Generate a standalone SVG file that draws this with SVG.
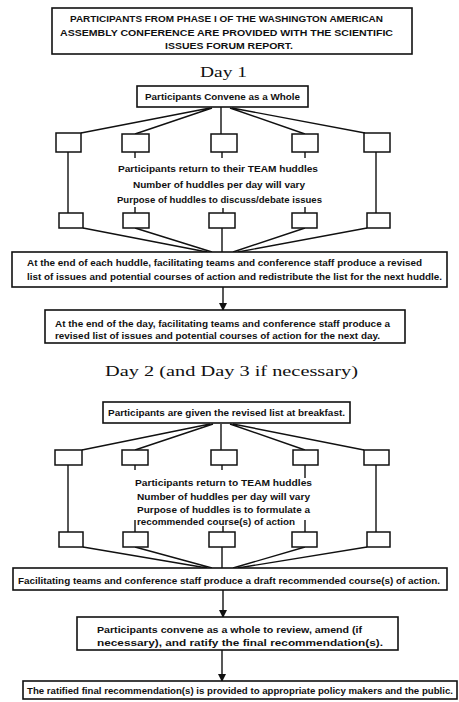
<svg xmlns="http://www.w3.org/2000/svg" width="459" height="702" viewBox="0 0 459 702">
<defs>
<style>
.bx{fill:#fff;stroke:#111;stroke-width:1.6}
.sb{fill:#fff;stroke:#111;stroke-width:1.5}
.ln{fill:none;stroke:#111;stroke-width:1.4}
.t{font-family:"Liberation Sans",Arial,sans-serif;font-size:9.5px;font-weight:bold;fill:#111}
.tc{font-family:"Liberation Sans",Arial,sans-serif;font-size:8.5px;font-weight:bold;fill:#111}
.h{font-family:"Liberation Serif","Times New Roman",serif;font-size:15px;fill:#111}
</style>
<marker id="ah" markerUnits="userSpaceOnUse" markerWidth="8" markerHeight="8" refX="7" refY="4" orient="auto">
<path d="M0,0 L8,4 L0,8 z" fill="#111"/>
</marker>
</defs>
<rect width="459" height="702" fill="#fff"/>

<g id="connectors">
<path class="ln" d="M210,108 L81,133 M212,108 L135,134 M221,107 L221,134 M230,108 L305,134 M232,108 L365,133"/>
<path class="ln" d="M135,152 L135,158 M222,152 L222,158 M305,152 L305,158"/>
<path class="ln" d="M68,152 L68,213 M376,152 L376,213"/>
<path class="ln" d="M135,207 L135,213 M223,208 L223,213 M305,207 L305,213"/>
<path class="ln" d="M83,228 L207,252 M135,228 L212,252 M222,228 L222,252 M305,228 L233,252 M367,228 L238,252"/>
<path class="ln" d="M223,287 L223,310" marker-end="url(#ah)"/>
<path class="ln" d="M210,424 L82,450 M213,424 L135,450 M221,424 L221,450 M230,424 L305,450 M233,424 L364,450"/>
<path class="ln" d="M135,465 L135,470 M222,465 L222,470 M305,465 L305,478"/>
<path class="ln" d="M68,465 L68,532 M376,465 L376,532"/>
<path class="ln" d="M135,520 L135,532 M223,526 L223,532 M305,520 L305,532"/>
<path class="ln" d="M83,547 L207,568 M135,547 L212,568 M222,547 L222,568 M305,547 L233,568 M367,547 L238,568"/>
<path class="ln" d="M223,590 L223,617" marker-end="url(#ah)"/>
<path class="ln" d="M222,650 L222,681" marker-end="url(#ah)"/>
</g>

<g id="intro">
<rect class="bx" x="52" y="8" width="360" height="46"/>
<text class="tc" x="70" y="22" textLength="313" lengthAdjust="spacingAndGlyphs">PARTICIPANTS FROM PHASE I OF THE WASHINGTON AMERICAN</text>
<text class="tc" x="60" y="36" textLength="333" lengthAdjust="spacingAndGlyphs">ASSEMBLY CONFERENCE ARE PROVIDED WITH THE SCIENTIFIC</text>
<text class="tc" x="165" y="49" textLength="128" lengthAdjust="spacingAndGlyphs">ISSUES FORUM REPORT.</text>
</g>

<g id="day1-title"><text class="h" x="200" y="77" textLength="47" lengthAdjust="spacingAndGlyphs">Day 1</text></g>

<g id="convene">
<rect class="bx" x="137" y="86" width="171" height="21"/>
<text class="t" x="145" y="100" textLength="155" lengthAdjust="spacingAndGlyphs">Participants Convene as a Whole</text>
</g>

<g id="d1-top1"><rect class="sb" x="56" y="133" width="25" height="19"/></g>
<g id="d1-top2"><rect class="sb" x="122" y="134" width="27" height="18"/></g>
<g id="d1-top3"><rect class="sb" x="211" y="134" width="26" height="18"/></g>
<g id="d1-top4"><rect class="sb" x="292" y="134" width="26" height="18"/></g>
<g id="d1-top5"><rect class="sb" x="364" y="133" width="26" height="19"/></g>

<g id="d1-huddles">
<text class="t" x="118" y="172" textLength="200" lengthAdjust="spacingAndGlyphs">Participants return to their TEAM huddles</text>
<text class="t" x="133" y="188" textLength="172" lengthAdjust="spacingAndGlyphs">Number of huddles per day will vary</text>
<text class="t" x="117" y="203" textLength="205" lengthAdjust="spacingAndGlyphs">Purpose of huddles to discuss/debate issues</text>
</g>

<g id="d1-bot1"><rect class="sb" x="59" y="213" width="24" height="15"/></g>
<g id="d1-bot2"><rect class="sb" x="123" y="213" width="26" height="15"/></g>
<g id="d1-bot3"><rect class="sb" x="209" y="213" width="26" height="15"/></g>
<g id="d1-bot4"><rect class="sb" x="292" y="213" width="25" height="15"/></g>
<g id="d1-bot5"><rect class="sb" x="367" y="213" width="23" height="15"/></g>

<g id="end-huddle">
<rect class="bx" x="12" y="252" width="435" height="35"/>
<text class="t" x="27" y="266" textLength="395" lengthAdjust="spacingAndGlyphs">At the end of each huddle, facilitating teams and conference staff produce a revised</text>
<text class="t" x="27" y="280" textLength="415" lengthAdjust="spacingAndGlyphs">list of issues and potential courses of action and redistribute the list for the next huddle.</text>
</g>

<g id="end-day">
<rect class="bx" x="45" y="310" width="360" height="33"/>
<text class="t" x="55" y="327" textLength="335" lengthAdjust="spacingAndGlyphs">At the end of the day, facilitating teams and conference staff produce a</text>
<text class="t" x="55" y="339" textLength="325" lengthAdjust="spacingAndGlyphs">revised list of issues and potential courses of action for the next day.</text>
</g>

<g id="day2-title"><text class="h" x="105" y="376" textLength="253" lengthAdjust="spacingAndGlyphs">Day 2 (and Day 3 if necessary)</text></g>

<g id="breakfast">
<rect class="bx" x="103" y="402" width="247" height="21"/>
<text class="t" x="108" y="416" textLength="237" lengthAdjust="spacingAndGlyphs">Participants are given the revised list at breakfast.</text>
</g>

<g id="d2-top1"><rect class="sb" x="55" y="450" width="27" height="15"/></g>
<g id="d2-top2"><rect class="sb" x="122" y="450" width="26" height="15"/></g>
<g id="d2-top3"><rect class="sb" x="211" y="450" width="26" height="15"/></g>
<g id="d2-top4"><rect class="sb" x="293" y="450" width="25" height="15"/></g>
<g id="d2-top5"><rect class="sb" x="364" y="450" width="25" height="15"/></g>

<g id="d2-huddles">
<text class="t" x="135" y="486" textLength="177" lengthAdjust="spacingAndGlyphs">Participants return to TEAM huddles</text>
<text class="t" x="137" y="500" textLength="173" lengthAdjust="spacingAndGlyphs">Number of huddles per day will vary</text>
<text class="t" x="137" y="513" textLength="173" lengthAdjust="spacingAndGlyphs">Purpose of huddles is to formulate a</text>
<text class="t" x="137" y="525" textLength="158" lengthAdjust="spacingAndGlyphs">recommended course(s) of action</text>
</g>

<g id="d2-bot1"><rect class="sb" x="59" y="532" width="24" height="15"/></g>
<g id="d2-bot2"><rect class="sb" x="123" y="532" width="25" height="15"/></g>
<g id="d2-bot3"><rect class="sb" x="209" y="532" width="26" height="15"/></g>
<g id="d2-bot4"><rect class="sb" x="292" y="532" width="25" height="15"/></g>
<g id="d2-bot5"><rect class="sb" x="367" y="532" width="23" height="15"/></g>

<g id="draft">
<rect class="bx" x="13" y="568" width="434" height="22"/>
<text class="t" x="18" y="584" textLength="422" lengthAdjust="spacingAndGlyphs">Facilitating teams and conference staff produce a draft recommended course(s) of action.</text>
</g>

<g id="ratify">
<rect class="bx" x="77" y="617" width="321" height="33"/>
<text class="t" x="97" y="633" textLength="265" lengthAdjust="spacingAndGlyphs">Participants convene as a whole to review, amend (if</text>
<text class="t" x="97" y="646" textLength="286" lengthAdjust="spacingAndGlyphs">necessary), and ratify the final recommendation(s).</text>
</g>

<g id="final">
<rect class="bx" x="23" y="681" width="434" height="18"/>
<text class="t" x="27" y="694" textLength="426" lengthAdjust="spacingAndGlyphs">The ratified final recommendation(s) is provided to appropriate policy makers and the public.</text>
</g>
</svg>
